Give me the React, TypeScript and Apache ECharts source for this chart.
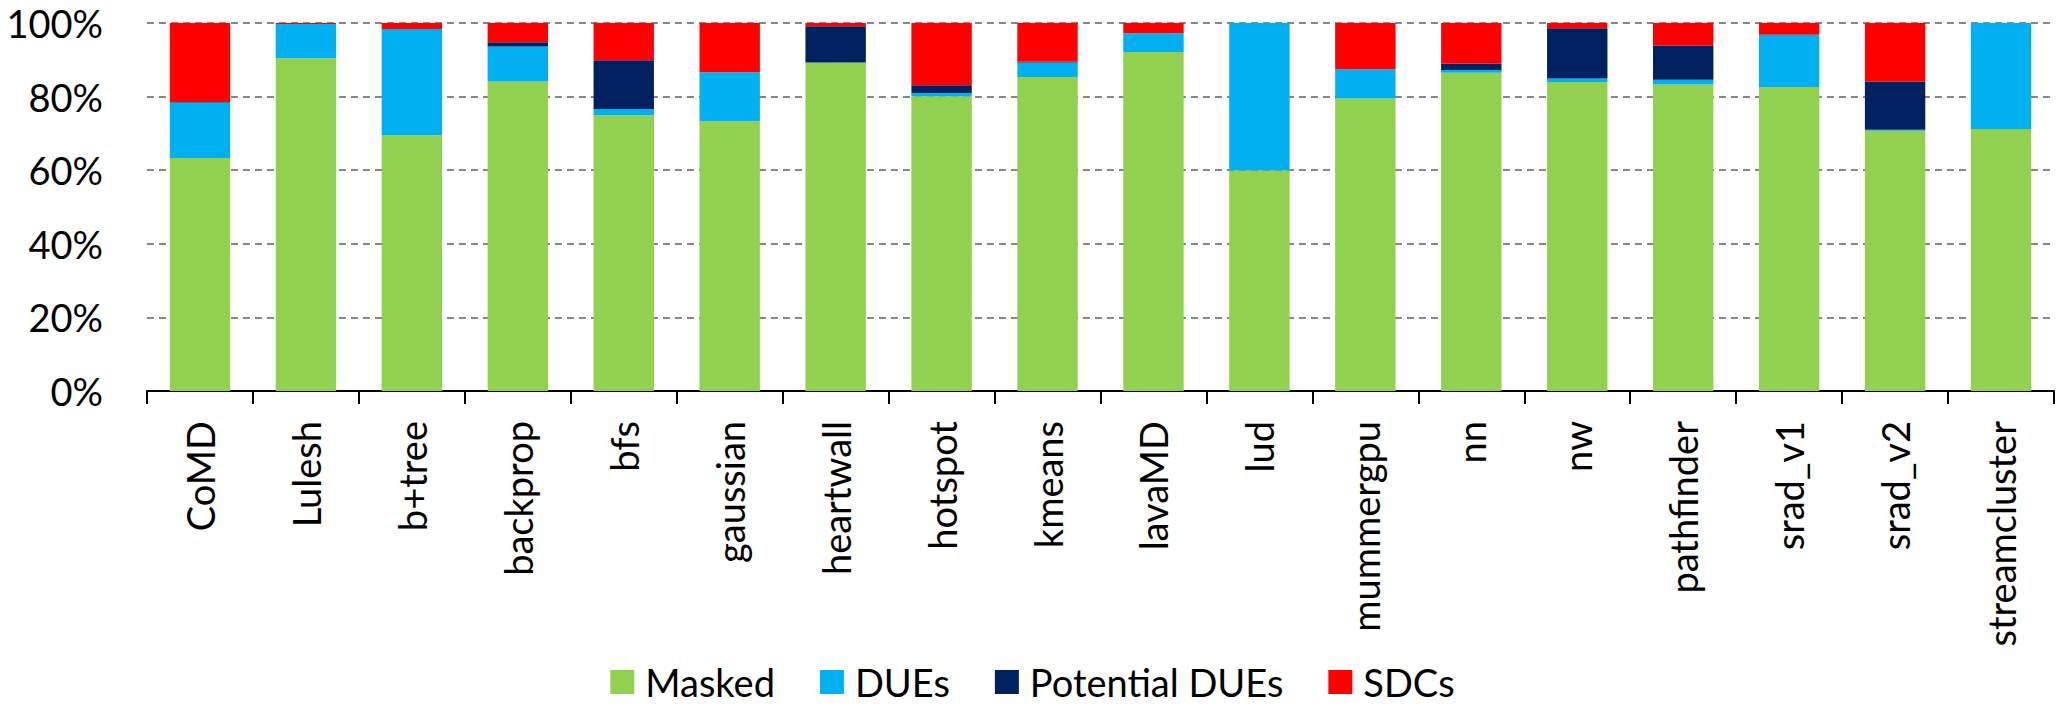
import React, { useEffect, useRef } from "react";
import * as echarts from "echarts";

const categories = [
  "CoMD", "Lulesh", "b+tree", "backprop", "bfs", "gaussian", "heartwall", "hotspot", "kmeans",
  "lavaMD", "lud", "mummergpu", "nn", "nw", "pathfinder", "srad_v1", "srad_v2", "streamcluster",
];
const masked = [63.3, 90.4, 69.5, 84.1, 74.9, 73.3, 89.2, 80.1, 85.3, 92.1, 59.9, 79.5, 86.5, 84.0, 83.3, 82.6, 70.7, 71.2];
const dues = [15.1, 9.3, 28.9, 9.5, 1.7, 13.3, 0.1, 0.9, 4.0, 5.1, 40.1, 7.9, 0.7, 0.9, 1.3, 14.2, 0.3, 28.8];
const potentialDues = [0.1, 0, 0, 1.2, 13.3, 0, 9.8, 2.1, 0.2, 0, 0, 0, 1.8, 13.7, 9.3, 0, 13.1, 0];
const sdcs = [21.5, 0.3, 1.6, 5.2, 10.1, 13.4, 0.9, 16.9, 10.5, 2.8, 0, 12.6, 11.0, 1.4, 6.1, 3.2, 15.9, 0];

const seriesNames = ["Masked", "DUEs", "Potential DUEs", "SDCs"];
const seriesColors = ["#92D050", "#00B0F0", "#002060", "#FF0000"];

const FONT = "Lato, 'Liberation Sans', sans-serif";

export default function App() {
  const ref = useRef<HTMLDivElement>(null);
  useEffect(() => {
    if (!ref.current) return;
    const chart = echarts.init(ref.current, undefined, { renderer: "svg" });
    const values = [masked, dues, potentialDues, sdcs];
    chart.setOption({
      animation: false,
      textStyle: { fontFamily: FONT },
      grid: { left: 147, right: 11, top: 23, bottom: 315, containLabel: false },
      legend: {
        bottom: 0,
        left: "center",
        itemWidth: 24,
        itemHeight: 24,
        itemGap: 45,
        icon: "rect",
        textStyle: { fontFamily: FONT, fontSize: 38, color: "#000", padding: [0, 0, 0, 6] },
        data: seriesNames,
      },
      xAxis: {
        type: "category",
        data: categories,
        axisLine: { lineStyle: { color: "#000", width: 2 } },
        axisTick: { show: true, length: 13, alignWithLabel: false, lineStyle: { color: "#000", width: 2 } },
        axisLabel: { rotate: 90, margin: 30, fontSize: 38, color: "#000", fontFamily: FONT, interval: 0 },
      },
      yAxis: {
        type: "value",
        min: 0,
        max: 100,
        interval: 20,
        axisLine: { show: false },
        axisTick: { show: false },
        axisLabel: { formatter: "{value}%", margin: 44, fontSize: 38, color: "#000", fontFamily: FONT },
        splitLine: { lineStyle: { color: "#878787", width: 2, type: [7, 5] } },
      },
      series: seriesNames.map((name, i) => ({
        name,
        type: "bar",
        stack: "total",
        barWidth: "57%",
        itemStyle: { color: seriesColors[i] },
        data: values[i],
      })),
    });
    return () => chart.dispose();
  }, []);
  return (
    <div
      ref={ref}
      style={{ position: "fixed", left: 0, top: 0, width: 2065, height: 706, background: "#fff" }}
    />
  );
}
